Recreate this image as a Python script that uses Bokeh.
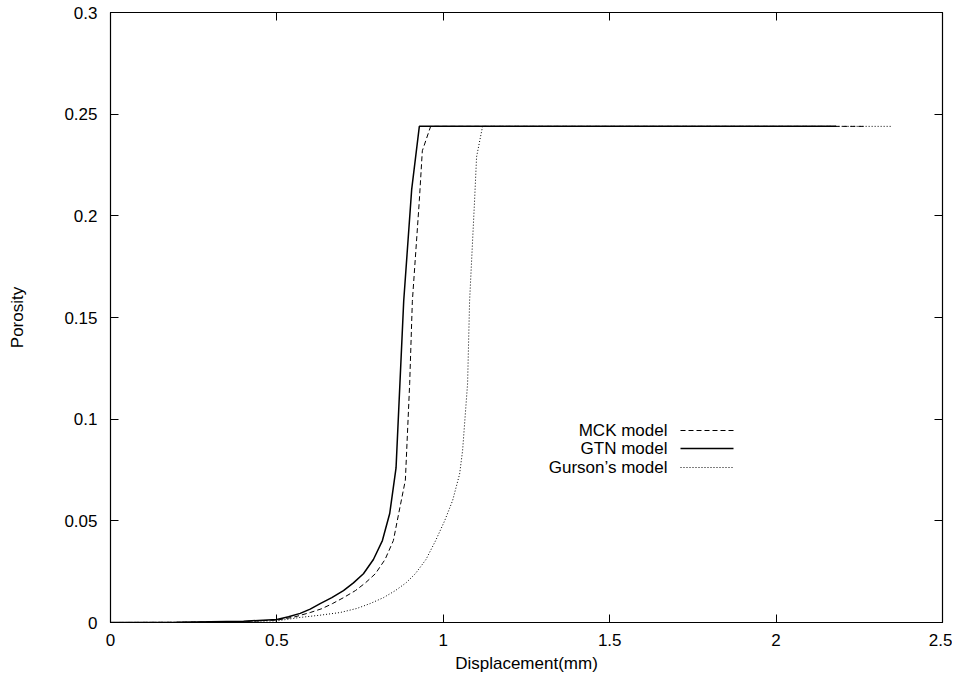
from bokeh.plotting import figure
from bokeh.models import Range1d, FixedTicker, LinearAxis, Label
from bokeh.embed import file_html
from bokeh.resources import INLINE

# ---- data ----
mck_x = [0.0, 0.2, 0.4, 0.5, 0.55, 0.60, 0.635, 0.667, 0.70, 0.736, 0.766, 0.796, 0.825, 0.85, 0.866, 0.886, 0.899, 0.907, 0.928, 0.937, 0.962, 2.27]
mck_y = [0.0, 0.0001, 0.0005, 0.0012, 0.0026, 0.0049, 0.0068, 0.0093, 0.0122, 0.0157, 0.0195, 0.024, 0.031, 0.0403, 0.0536, 0.07, 0.1176, 0.158, 0.2076, 0.232, 0.244, 0.244]

gtn_x = [0.0, 0.2, 0.4, 0.5, 0.535, 0.57, 0.60, 0.63, 0.665, 0.70, 0.73, 0.76, 0.79, 0.817, 0.839, 0.858, 0.881, 0.905, 0.928, 2.18]
gtn_y = [0.0, 0.0001, 0.0006, 0.0015, 0.0028, 0.0045, 0.0066, 0.0093, 0.0122, 0.0157, 0.0195, 0.024, 0.031, 0.0403, 0.0536, 0.076, 0.158, 0.213, 0.244, 0.244]

gur_x = [0.0, 0.3, 0.5, 0.57, 0.63, 0.69, 0.74, 0.78, 0.82, 0.856, 0.888, 0.916, 0.948, 0.977, 1.004, 1.028, 1.049, 1.058, 1.073, 1.079, 1.094, 1.10, 1.118, 2.35]
gur_y = [0.0, 0.0002, 0.0008, 0.0025, 0.0036, 0.0049, 0.0069, 0.0093, 0.0122, 0.0157, 0.0195, 0.024, 0.031, 0.0403, 0.05, 0.06, 0.073, 0.0846, 0.1176, 0.158, 0.2076, 0.229, 0.244, 0.244]

x_ticks = [0, 0.5, 1, 1.5, 2, 2.5]
x_tick_labels = ["0", "0.5", "1", "1.5", "2", "2.5"]
y_ticks = [0, 0.05, 0.1, 0.15, 0.2, 0.25, 0.3]
y_tick_labels = ["0", "0.05", "0.1", "0.15", "0.2", "0.25", "0.3"]

series_names = ["MCK model", "GTN model", "Gurson\u2019s model"]

# ---- styling / layout ----
FONT = "Liberation Sans"
FS = "17px"

p = figure(width=952, height=676, output_backend="svg", toolbar_location=None,
           x_range=Range1d(0, 2.5), y_range=Range1d(0, 0.3),
           min_border_left=110, min_border_right=10, min_border_top=12, min_border_bottom=54)
p.grid.visible = False
p.background_fill_color = "white"
p.border_fill_color = "white"
p.outline_line_color = "black"
p.outline_line_width = 1.2

for ax in (p.xaxis[0], p.yaxis[0]):
    ax.major_tick_in = 8
    ax.major_tick_out = 0
    ax.minor_tick_in = 0
    ax.minor_tick_out = 0
    ax.major_label_text_font = FONT
    ax.major_label_text_font_size = FS
    ax.major_label_text_color = "black"
    ax.axis_label_text_font = FONT
    ax.axis_label_text_font_size = FS
    ax.axis_label_text_font_style = "normal"
    ax.axis_label_text_color = "black"
    ax.axis_line_color = "black"
    ax.major_tick_line_color = "black"

p.xaxis[0].ticker = FixedTicker(ticks=x_ticks)
p.xaxis[0].major_label_overrides = dict(zip(x_ticks, x_tick_labels))
p.xaxis[0].axis_label = "Displacement(mm)"
p.xaxis[0].major_label_standoff = 11
p.xaxis[0].axis_label_standoff = 5

p.yaxis[0].ticker = FixedTicker(ticks=y_ticks)
p.yaxis[0].major_label_overrides = dict(zip(y_ticks, y_tick_labels))
p.yaxis[0].axis_label = "Porosity"
p.yaxis[0].major_label_standoff = 13
p.yaxis[0].axis_label_standoff = 34

# mirrored ticks on top and right (no labels)
for loc, ticks in (("above", x_ticks), ("right", y_ticks)):
    ax = LinearAxis(ticker=FixedTicker(ticks=ticks), major_tick_in=8, major_tick_out=0,
                    minor_tick_in=0, minor_tick_out=0,
                    major_label_overrides={t: "" for t in ticks},
                    major_label_standoff=0, axis_line_color="black",
                    major_tick_line_color="black")
    p.add_layout(ax, loc)

# curves
p.line(mck_x, mck_y, line_color="black", line_width=1, line_dash="5 3")
p.line(gtn_x, gtn_y, line_color="black", line_width=1.5)
p.line(gur_x, gur_y, line_color="black", line_width=1, line_dash="1 2")

# gnuplot-style legend (label on the left, sample on the right), placed in screen space
LEG_TEXT_X = 667 - 110      # right edge of labels, px from frame left
LEG_SAMPLE = (680 - 110, 733 - 110)
LEG_ROWS = [622 - 430, 622 - 448, 622 - 467]  # px from frame bottom
styles = [dict(line_dash="5 3", line_width=1), dict(line_dash="solid", line_width=1.5),
          dict(line_dash="1 2", line_width=1)]
px_x = 2.5 / 832.0
px_y = 0.3 / 610.0
for name, row, st in zip(series_names, LEG_ROWS, styles):
    p.add_layout(Label(x=LEG_TEXT_X, y=row, x_units="screen", y_units="screen", text=name,
                       text_align="right", text_baseline="middle", text_font=FONT,
                       text_font_size=FS, text_color="black"))
    p.line([LEG_SAMPLE[0] * px_x, LEG_SAMPLE[1] * px_x], [row * px_y, row * px_y],
           line_color="black", **st)

open("out.html", "w").write(file_html(p, INLINE))
